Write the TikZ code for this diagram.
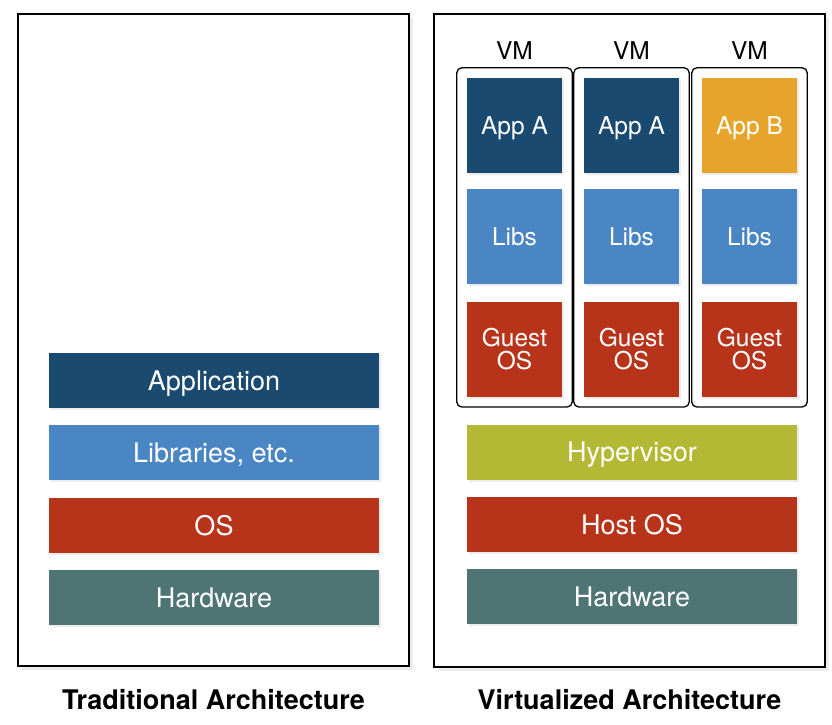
\documentclass[tikz,border=0pt]{standalone}
\usepackage{fontspec}
\setmainfont{TeX Gyre Heros}
\usetikzlibrary{positioning,fit,shadows}
\definecolor{appblue}{HTML}{1A4A70}
\definecolor{libblue}{HTML}{4B86C4}
\definecolor{osred}{HTML}{B7331A}
\definecolor{hwteal}{HTML}{4F7474}
\definecolor{hypgreen}{HTML}{B3B935}
\definecolor{appyellow}{HTML}{E6A52A}

\begin{document}
\begin{tikzpicture}[x=1pt, y=-1pt,
  frame/.style={draw=black, line width=2.8pt, fill=white,
    drop shadow={opacity=0.15, shadow xshift=4pt, shadow yshift=-4pt}},
  layer/.style={minimum width=330pt, minimum height=55pt, inner sep=0pt,
    text height=19.5pt, text depth=0pt,
    text=white, font=\fontsize{27}{30}\selectfont,
    drop shadow={opacity=0.15, shadow xshift=2pt, shadow yshift=-2pt}},
  vmpart/.style={minimum width=95pt, minimum height=95pt, inner sep=0pt,
    text height=17.6pt, text depth=0pt,
    text=white, align=center, font=\fontsize{24.5}{23}\selectfont,
    drop shadow={opacity=0.15, shadow xshift=2pt, shadow yshift=-2pt}},
  vmbox/.style={draw=black, line width=1.3pt, rounded corners=5pt, inner sep=10pt},
  vmlabel/.style={inner sep=0pt, font=\fontsize{24.5}{26}\selectfont},
  title/.style={font=\fontsize{27}{30}\selectfont\bfseries}
]
\useasboundingbox (0,0) rectangle (832,724);

% outer frames
\draw[frame] (18,14) rectangle (409,666);
\draw[frame] (434,14) rectangle (825,667);

% traditional stack
\node[layer, fill=appblue] (app) at (214,380.5) {Application};
\node[layer, fill=libblue, below=17pt of app] (libs) {Libraries, etc.};
\node[layer, fill=osred, below=17pt of libs] (os) {OS};
\node[layer, fill=hwteal, below=17pt of os] (hw) {Hardware};

% virtualized stack
\node[layer, fill=hypgreen] (hyp) at (632,452) {Hypervisor};
\node[layer, fill=osred, below=17pt of hyp] (hostos) {Host OS};
\node[layer, fill=hwteal, below=17pt of hostos] (vhw) {Hardware};

% virtual machines
\foreach \i/\x/\app/\col in {1/514.5/App A/appblue, 2/631.5/App A/appblue, 3/749.5/App B/appyellow} {
  \node[vmpart, fill=\col] (app\i) at (\x,125.5) {\app};
  \node[vmpart, fill=libblue, below=16pt of app\i] (libs\i) {Libs};
  \node[vmpart, fill=osred, text height=40.6pt, below=17pt of libs\i] (guest\i) {Guest\\OS};
  \node[vmbox, fit=(app\i)(guest\i)] (vm\i) {};
  \node[vmlabel, above=7pt of vm\i] (vmname\i) {VM};
}

% captions
\node[title] (tradtitle) at (213.5,700) {Traditional Architecture};
\node[title] (virttitle) at (629.5,700) {Virtualized Architecture};
\end{tikzpicture}
\end{document}
